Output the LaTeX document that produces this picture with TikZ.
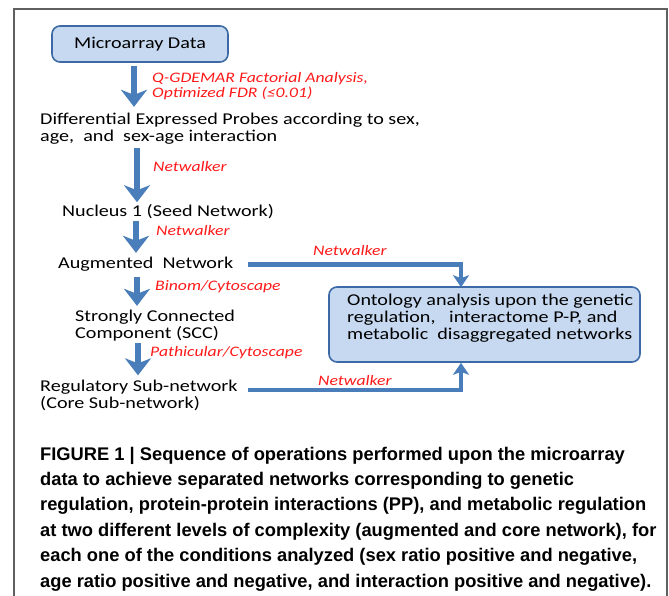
\documentclass[tikz,border=0pt]{standalone}
\usepackage{fontspec}
\usetikzlibrary{arrows.meta}
\newfontfamily\diagfont[FakeStretch=1.22]{Carlito}
\newfontfamily\capfont{Liberation Sans}
\definecolor{arrblue}{HTML}{4A7EBB}
\definecolor{boxfill}{HTML}{C6D9F1}
\definecolor{boxline}{HTML}{3D6AA6}
\definecolor{framegray}{HTML}{606060}
\definecolor{lblred}{HTML}{FF1A1A}
\tikzset{
  txt/.style={anchor=base west, inner sep=0pt, align=left,
    font=\diagfont\fontsize{16.5}{17}\selectfont},
  lbl/.style={anchor=base west, inner sep=0pt, align=left, text=lblred,
    font=\diagfont\itshape\fontsize{14.5}{15.5}\selectfont},
  stepbox/.style={draw=boxline, fill=boxfill, line width=1.6pt,
    rounded corners=8pt},
  varr/.style={draw=arrblue, line width=6pt,
    -{Stealth[length=17pt, width=26pt, inset=5pt]}},
  harr/.style={draw=arrblue, line width=4.5pt,
    -{Stealth[length=12pt, width=16pt, inset=3pt]}},
  caption/.style={anchor=base west, inner sep=0pt, align=left,
    font=\capfont\bfseries\fontsize{18.3}{25.4}\selectfont}
}
\begin{document}
\begin{tikzpicture}[x=1pt, y=-1pt]
\useasboundingbox (0,0) rectangle (669,596);
\clip (0,0) rectangle (669,596);

% outer frame, open at the bottom
\draw[framegray, line width=1.8pt] (14,610) -- (14,9) -- (667,9) -- (667,610);

% column of steps (multi-line nodes sit on the baseline of their last line)
\node[stepbox, minimum width=176pt, minimum height=36pt, inner sep=0pt,
  font=\diagfont\fontsize{16.5}{17}\selectfont] (md) at (140,44) {Microarray Data};
\node[txt] (diff) at (40,141.5) {Differential Expressed Probes according to sex,\\
  age,\ \ and\ \ sex-age interaction};
\node[txt] (nuc) at (62,216.5) {Nucleus 1 (Seed Network)};
\node[txt] (aug) at (58,268.5) {Augmented\ \ Network};
\node[txt] (scc) at (75,338.5) {Strongly Connected\\Component (SCC)};
\node[txt] (reg) at (40,408) {Regulatory Sub-network\\(Core Sub-network)};

% ontology box with its text
\node[stepbox, minimum width=311pt, minimum height=75pt, inner sep=0pt] (onto) at (484.5,324.5) {};
\node[txt] (ontotext) at (347,339) {Ontology analysis upon the genetic\\
  regulation,\ \ \ interactome P-P, and\\
  metabolic\ \ disaggregated networks};

% method labels
\node[lbl] (l1) at (152,98) {Q-GDEMAR Factorial Analysis,\\Optimized FDR (≤0.01)};
\node[lbl] (l2) at (153,172) {Netwalker};
\node[lbl] (l3) at (156,235.5) {Netwalker};
\node[lbl] (l4) at (313,255.5) {Netwalker};
\node[lbl] (l5) at (155,290.5) {Binom/Cytoscape};
\node[lbl] (l6) at (150,356) {Pathicular/Cytoscape};
\node[lbl] (l7) at (318,385.5) {Netwalker};

% arrow columns
\coordinate (ax1) at (134,0);
\coordinate (ax2) at (137,0);
\coordinate (ax3) at (136,0);
\coordinate (ax4) at (137,0);
\coordinate (ax5) at (138,0);
\coordinate (hx) at (248,0);
\coordinate (bx) at (461,0);
\coordinate (hs2) at (248,390);

% vertical flow
\draw[varr, shorten <=3pt, shorten >=6pt] (md.south -| ax1) -- (diff.north -| ax1);
\draw[varr, shorten <=3pt, shorten >=2pt] (diff.south -| ax2) -- (nuc.north -| ax2);
\draw[varr, shorten <=2pt, shorten >=4pt] (nuc.south -| ax3) -- (aug.north -| ax3);
\draw[varr, shorten <=5pt, shorten >=4pt] (aug.south -| ax4) -- (scc.north -| ax4);
\draw[varr, shorten <=2pt, shorten >=4pt] (scc.south -| ax5) -- (reg.north -| ax5);

% side connectors into the ontology box
\draw[harr] ([yshift=-0.5pt]aug.east -| hx) -| ([yshift=-1pt]onto.north -| bx);
\draw[harr] (hs2) -| (onto.south -| bx);

% caption
\node[caption] (cap) at (40,587) {FIGURE 1 | Sequence of operations performed upon the microarray\\
data to achieve separated networks corresponding to genetic\\
regulation, protein-protein interactions (PP), and metabolic regulation\\
at two different levels of complexity (augmented and core network), for\\
each one of the conditions analyzed (sex ratio positive and negative,\\
age ratio positive and negative, and interaction positive and negative).};
\end{tikzpicture}
\end{document}
